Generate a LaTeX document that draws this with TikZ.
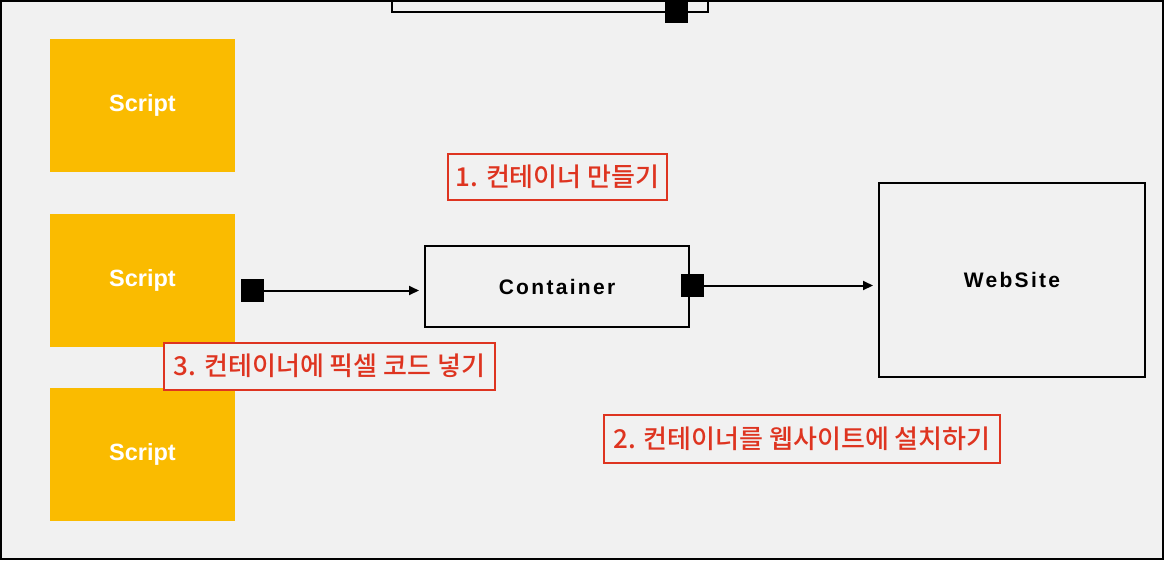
\documentclass[tikz,border=0pt]{standalone}
\usepackage{fontspec}
\setmainfont{Liberation Sans}
\newfontfamily\krfont{Noto Sans CJK KR Medium}
\newfontfamily\boxfont[LetterSpace=11]{Liberation Sans Bold}
\newfontfamily\scrfont{Liberation Sans Bold}
\usetikzlibrary{arrows.meta}
\definecolor{bgc}{RGB}{241,241,241}
\definecolor{scriptc}{RGB}{250,187,0}
\definecolor{redc}{RGB}{222,52,32}
\tikzset{
  scriptbox/.style={fill=scriptc, draw=none, minimum width=185pt, minimum height=133pt, inner sep=0pt,
    text=white, font=\scrfont\fontsize{23.5}{27}\selectfont},
  plainbox/.style={draw=black, line width=2pt, fill=bgc, inner sep=0pt,
    font=\boxfont\fontsize{21}{25}\selectfont},
  portsq/.style={fill=black, draw=none, minimum size=23pt, inner sep=0pt},
  redlabel/.style={draw=redc, line width=2pt, fill=bgc, text=redc, inner sep=0pt,
    font=\krfont\fontsize{26}{30}\selectfont},
  conn/.style={line width=2pt, -{Triangle[length=10pt,width=9pt]}, shorten >=5pt}
}
\begin{document}
\begin{tikzpicture}[x=1pt,y=-1pt]
\useasboundingbox (0,0) rectangle (1164,560);
\fill[bgc] (0,0) rectangle (1164,560);
% top partial box
\draw[line width=2pt] (392,-5) rectangle (708,11.5);
\node[portsq] (topsq) at (676.5,11) {};
% scripts
\node[scriptbox] (s1) at (142.5,105.5) {\raisebox{-2pt}{Script}};
\node[scriptbox] (s2) at (142.5,280) {\raisebox{-2pt}{Script}};
\node[scriptbox] (s3) at (142.5,454) {\raisebox{-2pt}{Script}};
% main boxes
\node[plainbox, minimum width=264pt, minimum height=81pt] (cont) at (557,286.5) {Container};
\node[plainbox, minimum width=266pt, minimum height=194pt] (web) at (1012,280) {WebSite};
% ports
\node[portsq] (p1) at (252.5,290.5) {};
\node[portsq] (p2) at (692.5,285.5) {};
% connectors
\draw[conn] (p1.center) -- (p1.center -| cont.west);
\draw[conn] (p2.center) -- (p2.center -| web.west);
% labels
\node[redlabel, minimum width=219pt, minimum height=46pt] (l1) at (557.5,177) {1. 컨테이너 만들기};
\node[redlabel, minimum width=331pt, minimum height=47pt] (l3) at (329.5,366) {3. 컨테이너에 픽셀 코드 넣기};
\node[redlabel, minimum width=396pt, minimum height=48pt] (l2) at (802,439) {2. 컨테이너를 웹사이트에 설치하기};
% outer frame
\draw[line width=2pt] (1,1) rectangle (1163,559);
\end{tikzpicture}
\end{document}
